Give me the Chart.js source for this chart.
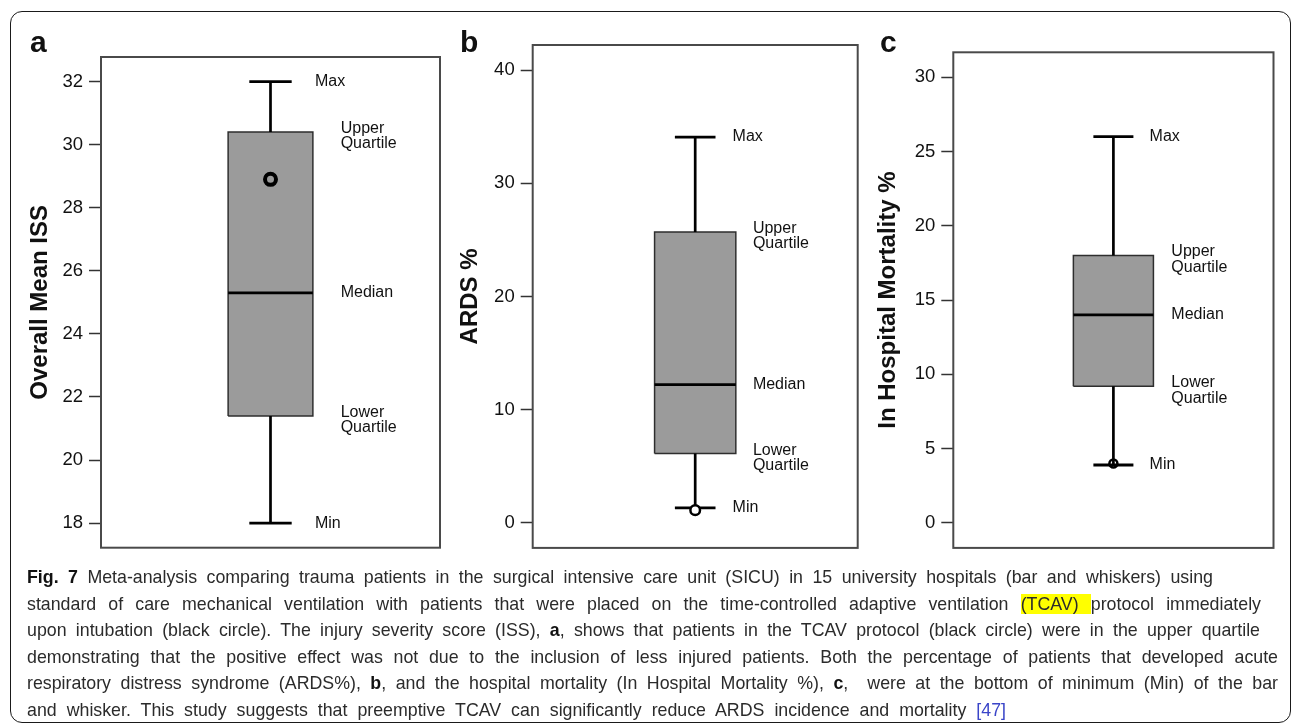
<!DOCTYPE html>
<html>
<head>
<meta charset="utf-8">
<title>Fig. 7 box plots</title>
<script src="https://cdn.jsdelivr.net/npm/chart.js@4.4.1/dist/chart.umd.min.js"></script>
<style>
  html, body { margin: 0; padding: 0; background: #fff; }
  body { width: 1293px; height: 727px; position: relative; overflow: hidden;
         font-family: "Liberation Sans", Arial, Helvetica, sans-serif; }
  #frame { position: absolute; left: 10px; top: 11px; width: 1281px; height: 712px;
           border: 1.5px solid #1a1a1a; border-radius: 12px; box-sizing: border-box; }
  canvas { position: absolute; top: 0; }
  .letter { position: absolute; top: 27px; font: bold 30px/30px "Liberation Sans", Arial, sans-serif; color: #111; }
  #caption { position: absolute; left: 27px; top: 564px; font-size: 17.8px; color: #2b2b2b; }
  .ln { white-space: nowrap; height: 26.5px; line-height: 26.5px; text-align: justify; text-align-last: justify; }
  .ln b { color: #111; }
  mark { background: #ffff00; color: #2b2b2b; }
  .ref { color: #3a45c8; }
</style>
</head>
<body>
<div id="frame"></div>
<canvas id="chartA" width="450" height="565" style="left:0px"></canvas>
<canvas id="chartB" width="420" height="565" style="left:445px"></canvas>
<canvas id="chartC" width="420" height="565" style="left:868px"></canvas>
<div class="letter" style="left:30px">a</div>
<div class="letter" style="left:460px">b</div>
<div class="letter" style="left:880px">c</div>

<div id="caption">
  <div class="ln" style="width:1186px"><b>Fig. 7</b> Meta-analysis comparing trauma patients in the surgical intensive care unit (SICU) in 15 university hospitals (bar and whiskers) using</div>
  <div class="ln" style="width:1234px">standard of care mechanical ventilation with patients that were placed on the time-controlled adaptive ventilation <mark>(TCAV) </mark>protocol immediately</div>
  <div class="ln" style="width:1233px">upon intubation (black circle). The injury severity score (ISS), <b>a</b>, shows that patients in the TCAV protocol (black circle) were in the upper quartile</div>
  <div class="ln" style="width:1251px">demonstrating that the positive effect was not due to the inclusion of less injured patients. Both the percentage of patients that developed acute</div>
  <div class="ln" style="width:1251px">respiratory distress syndrome (ARDS%), <b>b</b>, and the hospital mortality (In Hospital Mortality %), <b>c</b>, &nbsp;were at the bottom of minimum (Min) of the bar</div>
  <div class="ln" style="width:979px">and whisker. This study suggests that preemptive TCAV can significantly reduce ARDS incidence and mortality <span class="ref">[47]</span></div>
</div>

<script>
const FONT = '"Liberation Sans", Arial, Helvetica, sans-serif';

// each stats array: min, lower quartile, median, upper quartile, max
// a - overall mean ISS
const statsA = [18, 21.4, 25.3, 30.4, 32];
const tcavA = 28.9;
const ticksA = [18, 20, 22, 24, 26, 28, 30, 32];

// b - ARDS %
const statsB = [1.3, 6.1, 12.2, 25.7, 34.1];
const tcavB = 1.1;
const ticksB = [0, 10, 20, 30, 40];

// c - in hospital mortality %
const statsC = [3.9, 9.2, 14, 18, 26];
const tcavC = 4.0;
const ticksC = [0, 5, 10, 15, 20, 25, 30];

const statNames = ['Min', 'Lower\nQuartile', 'Median', 'Upper\nQuartile', 'Max'];

const BOX_W = 0.25;   // half width of box in x units
const CAP_W = 0.125;  // half width of whisker caps
const BOX_FILL = '#9b9b9b';

// frame round the plot region, like R's box()
const boxFrame = {
    id: 'boxFrame',
    afterDraw(chart) {
        const { ctx, chartArea: a } = chart;
        ctx.save();
        ctx.strokeStyle = '#4a4a4a';
        ctx.lineWidth = 2;
        ctx.strokeRect(a.left, a.top, a.right - a.left, a.bottom - a.top);
        ctx.restore();
    }
};

function statLabels(stats, capX, boxX) {
    return {
        id: 'statLabels',
        afterDatasetsDraw(chart) {
            const { ctx, scales: { x, y } } = chart;
            ctx.save();
            ctx.font = '16px ' + FONT;
            ctx.fillStyle = '#111';
            ctx.textAlign = 'left';
            ctx.textBaseline = 'middle';
            stats.forEach((v, i) => {
                const lines = statNames[i].split('\n');
                const px = x.getPixelForValue(i === 0 || i === 4 ? capX : boxX);
                const py = y.getPixelForValue(v);
                if (lines.length === 1) {
                    ctx.fillText(lines[0], px, py);
                } else {
                    ctx.fillText(lines[0], px, py - 3.5);
                    ctx.fillText(lines[1], px, py + 12);
                }
            });
            ctx.restore();
        }
    };
}

function seg(x1, y1, x2, y2, width, order) {
    return { data: [{ x: x1, y: y1 }, { x: x2, y: y2 }], borderColor: '#000', borderWidth: width,
             pointRadius: 0, fill: false, order: order };
}

function boxChart(id, p) {
    const [mn, q1, med, q3, mx] = p.stats;
    const canvas = document.getElementById(id);
    const left = parseFloat(canvas.style.left);
    const a = p.area;

    return new Chart(canvas, {
        type: 'line',
        data: {
            datasets: [
                // box body: fill between upper and lower quartile edges
                { data: [{ x: -BOX_W, y: q3 }, { x: BOX_W, y: q3 }], fill: '+1', backgroundColor: BOX_FILL,
                  borderColor: 'rgba(0,0,0,0)', borderWidth: 1, pointRadius: 0, order: 9 },
                { data: [{ x: -BOX_W, y: q1 }, { x: BOX_W, y: q1 }], fill: false,
                  borderColor: 'rgba(0,0,0,0)', borderWidth: 1, pointRadius: 0, order: 8 },
                // box outline
                { data: [{ x: -BOX_W, y: q1 }, { x: -BOX_W, y: q3 }, { x: BOX_W, y: q3 },
                         { x: BOX_W, y: q1 }, { x: -BOX_W, y: q1 }],
                  borderColor: '#2e2e2e', borderWidth: 1.5, pointRadius: 0, fill: false, order: 5 },
                seg(0, q3, 0, mx, 2.7, 4),
                seg(0, mn, 0, q1, 2.7, 4),
                seg(-CAP_W, mx, CAP_W, mx, 2.8, 3),
                seg(-CAP_W, mn, CAP_W, mn, 2.8, 3),
                seg(-BOX_W, med, BOX_W, med, 2.7, 2),
                // TCAV protocol (black circle)
                { data: [{ x: 0, y: p.tcav }], showLine: false, pointRadius: p.dot.r,
                  pointBorderWidth: p.dot.w, pointBorderColor: '#000', pointBackgroundColor: p.dot.fill,
                  order: 0 }
            ]
        },
        options: {
            responsive: false,
            animation: false,
            events: [],
            layout: { padding: { left: 0, right: canvas.width + left - a.r, top: a.t, bottom: canvas.height - a.b } },
            plugins: { legend: { display: false }, tooltip: { enabled: false },
                       filler: { drawTime: 'beforeDatasetsDraw' } },
            scales: {
                x: { type: 'linear', min: -1, max: 1, display: false },
                y: {
                    min: p.yMin,
                    max: p.yMax,
                    afterBuildTicks: s => { s.ticks = p.ticks.map(v => ({ value: v })); },
                    afterFit: s => { s.width = a.l - left; },
                    grid: { drawOnChartArea: false, drawTicks: true, tickLength: 12,
                            tickColor: '#333', tickWidth: 1.5 },
                    border: { display: false },
                    ticks: { color: '#111', padding: 6, font: { size: 18.5, family: FONT } },
                    title: { display: true, text: p.title, color: '#111',
                             font: { size: 24, weight: 'bold', family: FONT },
                             padding: { top: p.titleX - left - 14.4, bottom: 0 } }
                }
            }
        },
        plugins: [boxFrame, statLabels(p.stats, p.capLabelX, p.boxLabelX)]
    });
}

boxChart('chartA', {
    stats: statsA, tcav: tcavA, ticks: ticksA, yMin: 17.22, yMax: 32.78,
    title: 'Overall Mean ISS', titleX: 40,
    area: { l: 101, r: 440, t: 57, b: 547.7 },
    capLabelX: 0.262, boxLabelX: 0.414,
    dot: { r: 5.5, w: 4, fill: 'rgba(0,0,0,0)' }
});

boxChart('chartB', {
    stats: statsB, tcav: tcavB, ticks: ticksB, yMin: -2.24, yMax: 42.24,
    title: 'ARDS %', titleX: 470.7,
    area: { l: 532.7, r: 858, t: 45, b: 548.3 },
    capLabelX: 0.23, boxLabelX: 0.355,
    dot: { r: 4.8, w: 2.5, fill: '#fff' }
});

boxChart('chartC', {
    stats: statsC, tcav: tcavC, ticks: ticksC, yMin: -1.68, yMax: 31.68,
    title: 'In Hospital Mortality %', titleX: 888,
    area: { l: 953.3, r: 1273.5, t: 52.3, b: 548.3 },
    capLabelX: 0.226, boxLabelX: 0.362,
    dot: { r: 4, w: 2.5, fill: 'rgba(0,0,0,0)' }
});
</script>
</body>
</html>
